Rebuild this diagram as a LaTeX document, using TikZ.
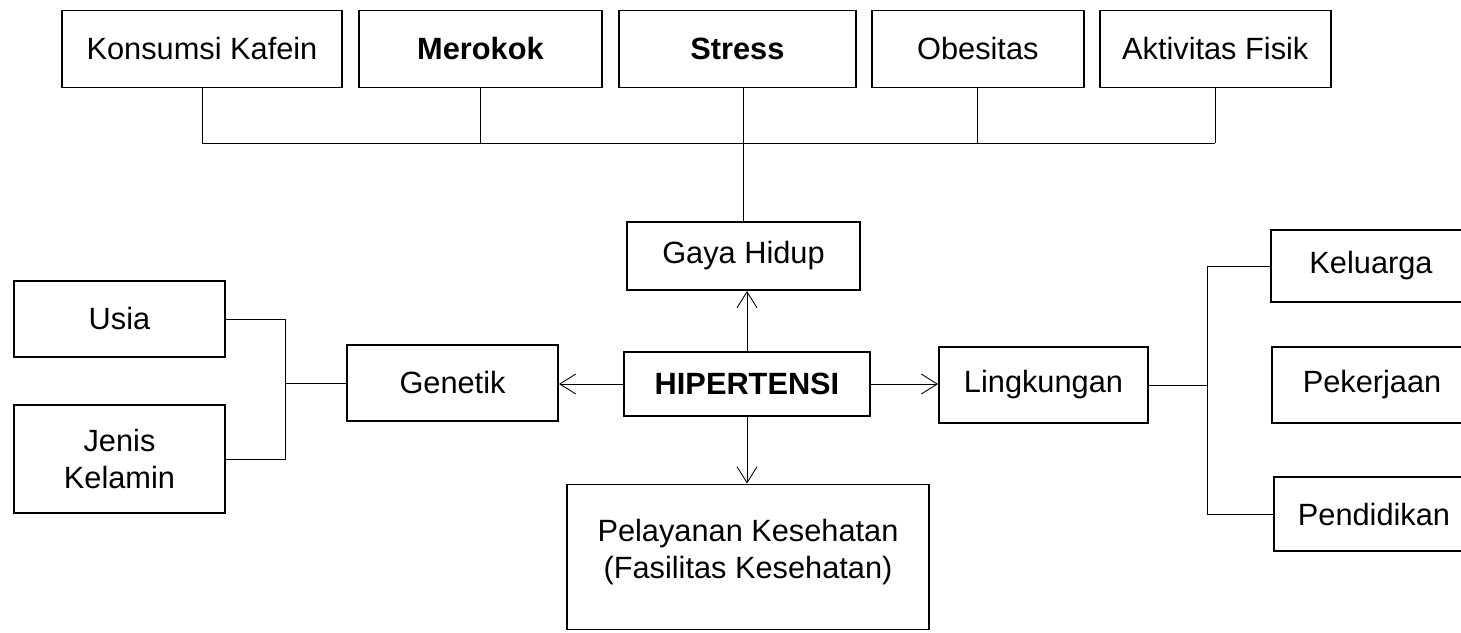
\documentclass[tikz,border=0pt]{standalone}
\usepackage{fontspec}
\setmainfont{Liberation Sans}
\usetikzlibrary{arrows.meta, positioning}

\begin{document}
\begin{tikzpicture}[
  box/.style={draw, line width=1.1pt, align=center, inner sep=2pt,
    font=\fontsize{17.5}{21}\selectfont},
  topbox/.style={box, minimum height=1.54cm},
  sidebox/.style={box, minimum width=4.22cm},
  link/.style={line width=0.5pt},
  arr/.style={-{Straight Barb[length=3.2mm, width=4mm]}, line width=0.5pt}
]
\useasboundingbox (0,0) rectangle (29.22,-12.64);
\node[topbox, minimum width=5.6cm] (kafein) at (4.04,-0.98) {Konsumsi Kafein};
\node[topbox, minimum width=4.86cm, right=0.3cm of kafein] (merokok) {\textbf{Merokok}};
\node[topbox, minimum width=4.74cm, right=0.3cm of merokok] (stress) {\textbf{Stress}};
\node[topbox, minimum width=4.24cm, right=0.28cm of stress] (obesitas) {Obesitas};
\node[topbox, minimum width=4.62cm, right=0.28cm of obesitas] (aktivitas) {Aktivitas Fisik};
\coordinate (bus) at (0,-2.86);
\node[box, minimum width=4.66cm, minimum height=1.36cm] (gaya) at (14.87,-5.12) {Gaya Hidup};
\node[box, minimum width=4.92cm, minimum height=1.28cm] (hip) at (14.94,-7.68) {\textbf{HIPERTENSI}};
\node[sidebox, minimum height=1.52cm] (genetik) at (9.05,-7.66) {Genetik};
\node[box, minimum width=4.18cm, minimum height=1.52cm] (lingkungan) at (20.87,-7.7) {Lingkungan};
\node[box, minimum width=7.24cm, minimum height=2.9cm] (pelayanan) at (14.96,-11.14) {Pelayanan Kesehatan\\(Fasilitas Kesehatan)\\[-0.42cm]};
\node[sidebox, minimum height=1.52cm] (usia) at (2.39,-6.38) {Usia};
\node[sidebox, minimum height=2.16cm] (jenis) at (2.39,-9.18) {Jenis\\Kelamin};
\node[box, minimum width=4cm, minimum height=1.44cm] (keluarga) at (27.42,-5.32) {Keluarga};
\node[box, minimum width=4cm, minimum height=1.52cm] (pekerjaan) at (27.44,-7.7) {Pekerjaan};
\node[box, minimum width=4cm, minimum height=1.48cm] (pendidikan) at (27.48,-10.28) {Pendidikan};
\coordinate (lj) at (5.7,-7.64);
\coordinate (rj) at (24.14,-7.7);
\draw[link] (kafein.south |- bus) -- (aktivitas.south |- bus);
\draw[link] (kafein.south) -- (kafein.south |- bus);
\draw[link] (merokok.south) -- (merokok.south |- bus);
\draw[link] (obesitas.south) -- (obesitas.south |- bus);
\draw[link] (aktivitas.south) -- (aktivitas.south |- bus);
\draw[link] (gaya.north) -- (gaya.north |- stress.south);
\draw[arr] (hip.north) -- (hip.north |- gaya.south);
\draw[arr] (hip.south) -- (hip.south |- pelayanan.north);
\draw[arr] (hip.west) -- (hip.west -| genetik.east);
\draw[arr] (hip.east) -- (hip.east -| lingkungan.west);
\draw[link] (usia.east) -- (usia.east -| lj) -- (jenis.east -| lj) -- (jenis.east);
\draw[link] (genetik.west) -- (genetik.west -| lj);
\draw[link] (keluarga.west) -- (keluarga.west -| rj) -- (pendidikan.west -| rj) -- (pendidikan.west);
\draw[link] (lingkungan.east) -- (lingkungan.east -| rj);
\end{tikzpicture}
\end{document}
